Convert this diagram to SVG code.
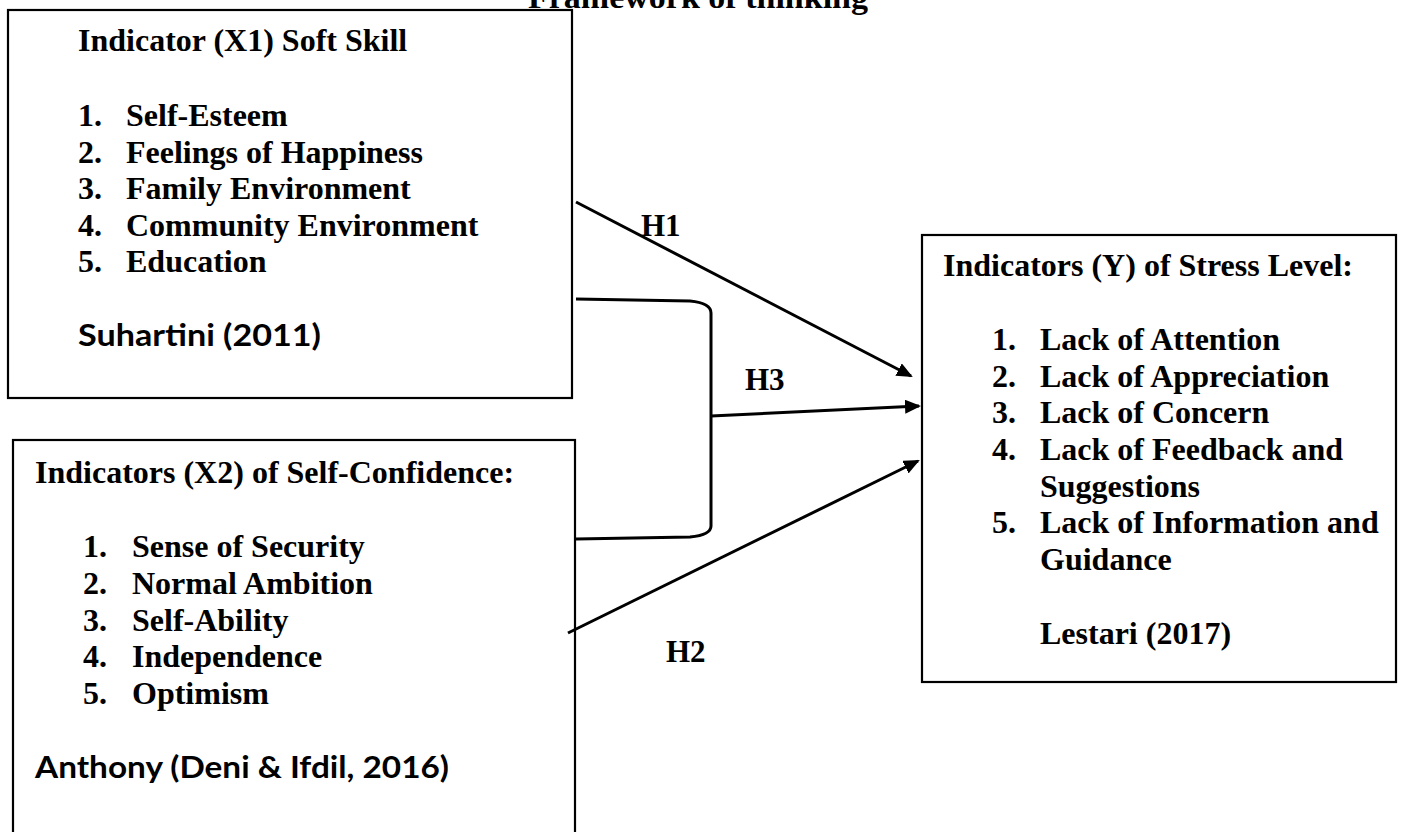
<svg xmlns="http://www.w3.org/2000/svg" width="1405" height="832" viewBox="0 0 1405 832">
<style>
.bg{fill:#ffffff}
.box{fill:#ffffff;stroke:#000000;stroke-width:2.2}
.t{font-family:"Liberation Serif","Times New Roman",serif;font-weight:bold;font-size:32px;fill:#000000}
.c{font-family:Lato,"Liberation Sans",sans-serif;font-weight:bold;font-size:31px;fill:#000000}
.h{font-family:"Liberation Serif","Times New Roman",serif;font-weight:bold;font-size:31px;fill:#000000}
.ln{fill:none;stroke:#000000;stroke-width:3}
</style>
<defs>
<marker id="ah" viewBox="0 0 16 14" refX="14" refY="7" markerWidth="16" markerHeight="14" markerUnits="userSpaceOnUse" orient="auto">
<path d="M0,0 L16,7 L0,14 z" fill="#000000"/>
</marker>
</defs>
<rect class="bg" x="0" y="0" width="1405" height="832"/>
<g id="title">
<text class="t" x="528" y="8" font-size="34" textLength="340" lengthAdjust="spacingAndGlyphs">Framework of thinking</text>
</g>
<g id="x1">
<rect class="box" x="8" y="10" width="564" height="388"/>
<text class="t" x="78" y="51">Indicator (X1) Soft Skill</text>
<text class="t" x="78" y="126">1.</text><text class="t" x="126" y="126">Self-Esteem</text>
<text class="t" x="78" y="163">2.</text><text class="t" x="126" y="163">Feelings of Happiness</text>
<text class="t" x="78" y="199">3.</text><text class="t" x="126" y="199">Family Environment</text>
<text class="t" x="78" y="236">4.</text><text class="t" x="126" y="236">Community Environment</text>
<text class="t" x="78" y="272">5.</text><text class="t" x="126" y="272">Education</text>
<text class="c" x="78" y="346" textLength="243" lengthAdjust="spacingAndGlyphs">Suhartini (2011)</text>
</g>
<g id="x2">
<rect class="box" x="13" y="440" width="562" height="420"/>
<text class="t" x="35" y="483">Indicators (X2) of Self-Confidence:</text>
<text class="t" x="83" y="557">1.</text><text class="t" x="132" y="557">Sense of Security</text>
<text class="t" x="83" y="594">2.</text><text class="t" x="132" y="594">Normal Ambition</text>
<text class="t" x="83" y="631">3.</text><text class="t" x="132" y="631">Self-Ability</text>
<text class="t" x="83" y="667">4.</text><text class="t" x="132" y="667">Independence</text>
<text class="t" x="83" y="704">5.</text><text class="t" x="132" y="704">Optimism</text>
<text class="c" x="35" y="778" textLength="414" lengthAdjust="spacingAndGlyphs">Anthony (Deni &amp; Ifdil, 2016)</text>
</g>
<g id="y">
<rect class="box" x="922" y="235" width="474" height="447"/>
<text class="t" x="943" y="276">Indicators (Y) of Stress Level:</text>
<text class="t" x="992" y="350">1.</text><text class="t" x="1040" y="350">Lack of Attention</text>
<text class="t" x="992" y="387">2.</text><text class="t" x="1040" y="387">Lack of Appreciation</text>
<text class="t" x="992" y="423">3.</text><text class="t" x="1040" y="423">Lack of Concern</text>
<text class="t" x="992" y="460">4.</text><text class="t" x="1040" y="460">Lack of Feedback and</text>
<text class="t" x="1040" y="497">Suggestions</text>
<text class="t" x="992" y="533">5.</text><text class="t" x="1040" y="533">Lack of Information and</text>
<text class="t" x="1040" y="570">Guidance</text>
<text class="t" x="1040" y="644">Lestari (2017)</text>
</g>
<g id="connectors">
<line class="ln" x1="576" y1="202" x2="911" y2="376" marker-end="url(#ah)"/>
<path class="ln" d="M576,299 L690,301 Q711,303 711,313 L711,526 Q711,535 690,537 L576,539"/>
<line class="ln" x1="711" y1="416" x2="919" y2="406" marker-end="url(#ah)"/>
<line class="ln" x1="568" y1="633" x2="918" y2="461" marker-end="url(#ah)"/>
</g>
<g id="labels">
<text class="h" x="641" y="236">H1</text>
<text class="h" x="745" y="390">H3</text>
<text class="h" x="666" y="662">H2</text>
</g>
</svg>
